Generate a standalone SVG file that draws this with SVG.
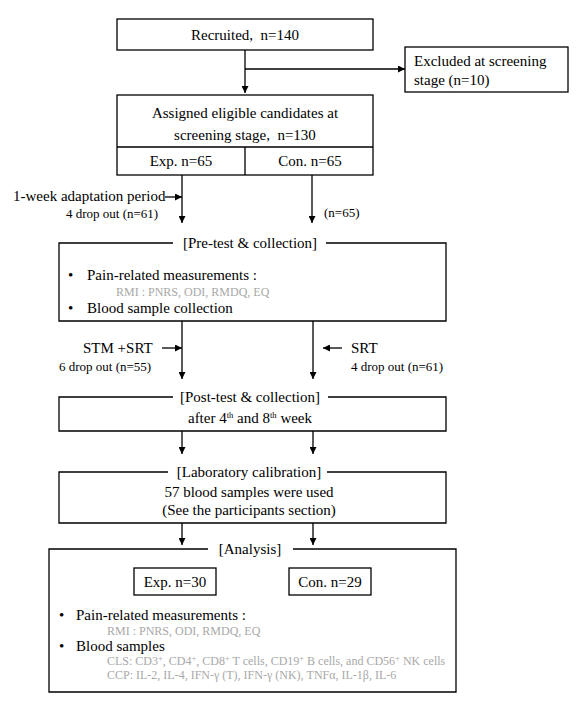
<svg xmlns="http://www.w3.org/2000/svg" width="584" height="707" viewBox="0 0 584 707">
<defs>
<marker id="ah" viewBox="0 0 10 10" refX="10" refY="5" markerWidth="7" markerHeight="7" markerUnits="userSpaceOnUse" orient="auto"><path d="M0,0 L10,5 L0,10 z" fill="#000"/></marker>
</defs>
<style>
.box{fill:#fff;stroke:#000;stroke-width:1.3}
.ln{fill:none;stroke:#000;stroke-width:1.3}
.t{font-family:"Liberation Serif","Times New Roman",serif;font-size:15px;fill:#000}
.c{text-anchor:middle}
.s{font-family:"Liberation Serif","Times New Roman",serif;font-size:13px;fill:#000}
.g{font-family:"Liberation Serif","Times New Roman",serif;font-size:12px;fill:#a8a8a8}
.sup{font-size:8.5px}
</style>
<rect width="584" height="707" fill="#fff"/>

<g id="connectors">
<path class="ln" d="M245,50 V93" marker-end="url(#ah)"/>
<path class="ln" d="M245,69 H405" marker-end="url(#ah)"/>
<path class="ln" d="M182,175 V223" marker-end="url(#ah)"/>
<path class="ln" d="M312,175 V223" marker-end="url(#ah)"/>
<path class="ln" d="M165,197 H182" marker-end="url(#ah)"/>
<path class="ln" d="M182,321 V379" marker-end="url(#ah)"/>
<path class="ln" d="M313,321 V379" marker-end="url(#ah)"/>
<path class="ln" d="M162,348 H182" marker-end="url(#ah)"/>
<path class="ln" d="M342,348 H323" marker-end="url(#ah)"/>
<path class="ln" d="M182,431 V454" marker-end="url(#ah)"/>
<path class="ln" d="M313,431 V454" marker-end="url(#ah)"/>
<path class="ln" d="M182,523 V545" marker-end="url(#ah)"/>
<path class="ln" d="M313,523 V545" marker-end="url(#ah)"/>
</g>

<g id="recruited">
<rect class="box" x="117" y="19" width="256" height="31"/>
<text class="t c" x="245" y="40" xml:space="preserve">Recruited,  n=140</text>
</g>

<g id="excluded">
<rect class="box" x="405" y="47" width="163" height="45"/>
<text class="t" x="414" y="66">Excluded at screening</text>
<text class="t" x="414" y="85">stage (n=10)</text>
</g>

<g id="assigned">
<rect class="box" x="117" y="95" width="256" height="80"/>
<path class="ln" d="M117,147 H373 M245,147 V175"/>
<text class="t c" x="245" y="118">Assigned eligible candidates at</text>
<text class="t c" x="245" y="140" xml:space="preserve">screening stage,  n=130</text>
<text class="t c" x="181" y="166">Exp. n=65</text>
<text class="t c" x="310" y="166">Con. n=65</text>
</g>

<g id="adaptation">
<text class="t" x="13" y="201">1-week adaptation period</text>
<text class="s" x="66" y="218">4 drop out (n=61)</text>
<text class="s" x="324" y="217">(n=65)</text>
</g>

<g id="pretest">
<path class="ln" d="M173,243 H59 V321 H446 V243 H326"/>
<text class="t c" x="250" y="248">[Pre-test &amp; collection]</text>
<text class="t" x="68" y="280">•</text>
<text class="t" x="87" y="280">Pain-related measurements :</text>
<text class="g" x="116" y="296">RMI : PNRS, ODI, RMDQ, EQ</text>
<text class="t" x="68" y="313">•</text>
<text class="t" x="87" y="313">Blood sample collection</text>
</g>

<g id="intervention">
<text class="t" x="83" y="353">STM +SRT</text>
<text class="s" x="59" y="371">6 drop out (n=55)</text>
<text class="t" x="351" y="353">SRT</text>
<text class="s" x="351" y="371">4 drop out (n=61)</text>
</g>

<g id="posttest">
<path class="ln" d="M173,397 H59 V431 H446 V397 H328"/>
<text class="t c" x="250" y="402">[Post-test &amp; collection]</text>
<text class="t c" x="250" y="423">after 4<tspan class="sup" dy="-5">th</tspan><tspan dy="5"> and 8</tspan><tspan class="sup" dy="-5">th</tspan><tspan dy="5"> week</tspan></text>
</g>

<g id="laboratory">
<path class="ln" d="M168,472 H59 V523 H446 V472 H327"/>
<text class="t c" x="249" y="477">[Laboratory calibration]</text>
<text class="t c" x="249" y="497">57 blood samples were used</text>
<text class="t c" x="249" y="515">(See the participants section)</text>
</g>

<g id="analysis">
<path class="ln" d="M208,549 H49 V692 H456 V549 H293"/>
<text class="t c" x="250" y="554">[Analysis]</text>
<rect class="box" x="134" y="568" width="82" height="27"/>
<text class="t c" x="175" y="587">Exp. n=30</text>
<rect class="box" x="289" y="568" width="82" height="27"/>
<text class="t c" x="330" y="587">Con. n=29</text>
<text class="t" x="59" y="620">•</text>
<text class="t" x="76" y="620">Pain-related measurements :</text>
<text class="g" x="107" y="635">RMI : PNRS, ODI, RMDQ, EQ</text>
<text class="t" x="59" y="651">•</text>
<text class="t" x="76" y="651">Blood samples</text>
<text class="g" x="107" y="665">CLS: CD3<tspan class="sup" dy="-4">+</tspan><tspan dy="4">, CD4</tspan><tspan class="sup" dy="-4">+</tspan><tspan dy="4">, CD8</tspan><tspan class="sup" dy="-4">+</tspan><tspan dy="4"> T cells, CD19</tspan><tspan class="sup" dy="-4">+</tspan><tspan dy="4"> B cells, and CD56</tspan><tspan class="sup" dy="-4">+</tspan><tspan dy="4"> NK cells</tspan></text>
<text class="g" x="107" y="679">CCP: IL-2, IL-4, IFN-γ (T), IFN-γ (NK), TNFα, IL-1β, IL-6</text>
</g>
</svg>
